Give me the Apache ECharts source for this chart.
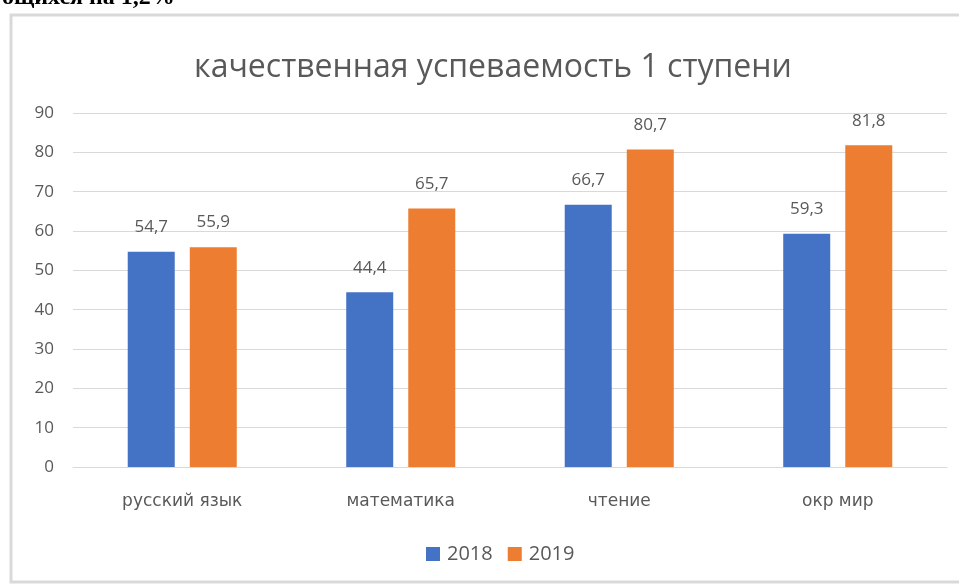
<!DOCTYPE html>
<html><head><meta charset="utf-8">
<script src="https://cdn.jsdelivr.net/npm/echarts@6/dist/echarts.min.js"></script>
<style>html,body{margin:0;padding:0;background:#fff}#c{width:959px;height:585px}</style>
</head><body><div id="c"></div>
<script>
const categories = ['русский язык', 'математика', 'чтение', 'окр мир'];
const values2018 = [54.7, 44.4, 66.7, 59.3];
const values2019 = [55.9, 65.7, 80.7, 81.8];
const yTicks = {min: 0, max: 90, interval: 10};

const chart = echarts.init(document.getElementById('c'));
const fmt = p => String(p.value).replace('.', ',');
const labelStyle = {show: true, position: 'top', distance: 16, color: '#595959', fontSize: 17, fontFamily: 'Open Sans', formatter: fmt};
chart.setOption({
  animation: false,
  backgroundColor: '#fff',
  title: {
    text: 'качественная успеваемость 1 ступени',
    left: 488, top: 47, textAlign: 'center',
    textStyle: {color: '#595959', fontSize: 32, fontWeight: 'normal', fontFamily: 'Open Sans'}
  },
  graphic: [
    {type: 'rect', shape: {x: 11, y: 15, width: 960, height: 567}, style: {fill: 'none', stroke: '#d9d9d9', lineWidth: 3}, z: -1},
    {type: 'text', left: 2, top: -14, style: {text: 'ощихся на 1,2%', font: 'bold 24px "Liberation Serif"', fill: '#000'}}
  ],
  legend: {
    top: 539, left: 421, itemWidth: 14, itemHeight: 14, itemGap: 15,
    icon: 'rect',
    textStyle: {color: '#595959', fontSize: 20, fontFamily: 'Open Sans', padding: [0, 0, 0, 2]},
    data: ['2018', '2019']
  },
  grid: {left: 73, right: 12, top: 113, bottom: 118},
  xAxis: {
    type: 'category', data: categories,
    axisLine: {lineStyle: {color: '#d9d9d9', width: 1}},
    axisTick: {show: false},
    axisLabel: {color: '#595959', fontSize: 17, fontFamily: 'DejaVu Sans', margin: 26}
  },
  yAxis: {
    type: 'value', min: yTicks.min, max: yTicks.max, interval: yTicks.interval,
    axisLine: {show: false}, axisTick: {show: false},
    splitLine: {lineStyle: {color: '#d9d9d9', width: 1}},
    axisLabel: {color: '#595959', fontSize: 17, fontFamily: 'Open Sans', margin: 19}
  },
  series: [
    {name: '2018', type: 'bar', data: values2018, barWidth: 47, barGap: '32%', itemStyle: {color: '#4472C4'}, label: labelStyle},
    {name: '2019', type: 'bar', data: values2019, barWidth: 47, itemStyle: {color: '#ED7D31'}, label: labelStyle}
  ]
});
</script></body></html>
